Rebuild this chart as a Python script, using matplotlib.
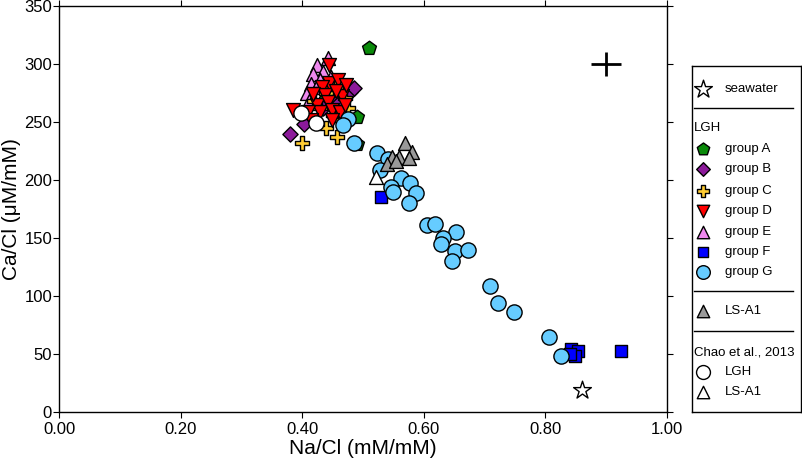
import matplotlib
matplotlib.use("Agg")
import matplotlib.pyplot as plt

plt.rcParams['font.family'] = ['Liberation Sans', 'DejaVu Sans']

# LGH groups (Na/Cl, Ca/Cl)
a_x = [0.51, 0.49, 0.49, 0.44, 0.455]
a_y = [314, 254, 231, 270, 262]
b_x = [0.38, 0.403, 0.478, 0.485, 0.445, 0.46, 0.435]
b_y = [240, 248, 276, 279, 270, 266, 262]
c_x = [0.40, 0.44, 0.457, 0.47, 0.43, 0.45, 0.463, 0.42, 0.455, 0.44, 0.475]
c_y = [232, 245, 237, 271, 262, 256, 252, 268, 280, 275, 262]
d_x = [0.444, 0.444, 0.459, 0.432, 0.465, 0.437, 0.424, 0.442, 0.429,
       0.449, 0.462, 0.449, 0.41, 0.414, 0.385, 0.455, 0.47, 0.418, 0.472]
d_y = [299, 284, 286, 280, 272, 273, 265, 267, 259,
       260, 259, 252, 259, 252, 260, 277, 265, 274, 282]
e_x = [0.442, 0.425, 0.435, 0.418, 0.447, 0.415, 0.425, 0.408, 0.43, 0.412]
e_y = [305, 299, 293, 291, 289, 283, 280, 275, 286, 268]
f_x = [0.53, 0.842, 0.854, 0.849, 0.84, 0.924]
f_y = [185, 54, 53, 48, 50, 53]
g_x = [0.475, 0.467, 0.485, 0.523, 0.541, 0.528, 0.562, 0.577, 0.546,
       0.549, 0.587, 0.576, 0.605, 0.618, 0.653, 0.632, 0.628, 0.651,
       0.673, 0.646, 0.709, 0.722, 0.748, 0.806, 0.826]
g_y = [253, 247, 232, 223, 218, 209, 202, 197, 194,
       190, 189, 180, 161, 162, 155, 150, 145, 139,
       140, 130, 109, 94, 86, 65, 48]

# LS-A1
ls_x = [0.569, 0.58, 0.559, 0.548, 0.54, 0.576, 0.554]
ls_y = [232, 224, 220, 220, 214, 219, 216]

# Chao et al., 2013
chao_lgh_x = [0.398, 0.423]
chao_lgh_y = [258, 249]
chao_ls_x = [0.521]
chao_ls_y = [203]

# seawater and typical error
sw_x = [0.86]
sw_y = [19]
err_x = [0.90]
err_y = [300]
err_dx = [0.025]
err_dy = [10]

x_ticks = [0.0, 0.2, 0.4, 0.6, 0.8, 1.0]
y_ticks = [0, 50, 100, 150, 200, 250, 300, 350]

# marker styles: label, marker, face color, size
styles = {
    'A': ('group A', 'p', '#0a8a0a', 110),
    'B': ('group B', 'D', '#8c1a9a', 60),
    'C': ('group C', 'P', '#ffcc33', 100),
    'D': ('group D', 'v', '#ff0000', 100),
    'E': ('group E', '^', '#ee88ee', 100),
    'F': ('group F', 's', '#0000ff', 70),
    'G': ('group G', 'o', '#66ccff', 120),
}

fig = plt.figure(figsize=(8.03, 4.61), dpi=100)
ax = fig.add_axes([0.0735, 0.1063, 0.757, 0.8807])

def pts(x, y, key, **kw):
    lab, m, c, s = styles[key]
    ax.scatter(x, y, marker=m, s=s, facecolor=c, edgecolor='black',
               linewidth=1, **kw)

pts(a_x, a_y, 'A', zorder=2)
pts(e_x, e_y, 'E', zorder=3)
pts(b_x, b_y, 'B', zorder=3)
pts(c_x, c_y, 'C', zorder=3)
pts(d_x, d_y, 'D', zorder=4)
pts(f_x, f_y, 'F', zorder=4)
pts(g_x, g_y, 'G', zorder=5)
ax.scatter(ls_x, ls_y, marker='^', s=100, facecolor='#999999',
           edgecolor='black', linewidth=1, zorder=5)
ax.scatter(chao_lgh_x, chao_lgh_y, marker='o', s=120, facecolor='white',
           edgecolor='black', linewidth=1, zorder=6)
ax.scatter(chao_ls_x, chao_ls_y, marker='^', s=100, facecolor='white',
           edgecolor='black', linewidth=1, zorder=6)
ax.scatter(sw_x, sw_y, marker='*', s=180, facecolor='white',
           edgecolor='black', linewidth=1, zorder=6)
ax.errorbar(err_x, err_y, xerr=err_dx, yerr=err_dy, fmt='none',
            ecolor='black', elinewidth=2, capsize=0)

ax.set_xlim(0, 1.0)
ax.set_ylim(0, 350)
ax.set_xticks(x_ticks)
ax.set_xticklabels([f"{v:.2f}" for v in x_ticks])
ax.set_yticks(y_ticks)
ax.tick_params(direction='out', length=4, width=0.8, labelsize=12,
               top=True, right=True, pad=1, colors='black')
ax.tick_params(axis='x', pad=3)
ax.set_xlabel("Na/Cl (mM/mM)", fontsize=15, labelpad=2)
ax.set_ylabel("Ca/Cl (μM/mM)", fontsize=15)
ax.yaxis.set_label_coords(-0.062, 0.5)
for sp in ax.spines.values():
    sp.set_linewidth(1)

# legend box drawn by hand (pixel-like coordinates inside the box)
lg = fig.add_axes([0.8618, 0.1063, 0.1357, 0.7505])
lg.set_xlim(0, 109)
lg.set_ylim(346, 0)
lg.set_xticks([])
lg.set_yticks([])
for sp in lg.spines.values():
    sp.set_linewidth(1)

mx, tx = 11, 33
fs = 9.5
lg.scatter([mx], [23], marker='*', s=180, facecolor='white', edgecolor='black', linewidth=1)
lg.text(tx, 23, "seawater", fontsize=fs, va='center')
lg.plot([2, 101], [42, 42], color='black', lw=1)
lg.text(2, 62, "LGH", fontsize=fs, va='center')
rows = [83, 103, 125, 145, 166, 186, 206]
for yy, key in zip(rows, ['A', 'B', 'C', 'D', 'E', 'F', 'G']):
    lab, m, c, s = styles[key]
    lg.scatter([mx], [yy], marker=m, s=s * 0.8, facecolor=c, edgecolor='black', linewidth=1)
    lg.text(tx, yy, lab, fontsize=fs, va='center')
lg.plot([2, 101], [225, 225], color='black', lw=1)
lg.scatter([mx], [245], marker='^', s=80, facecolor='#999999', edgecolor='black', linewidth=1)
lg.text(tx, 245, "LS-A1", fontsize=fs, va='center')
lg.plot([2, 101], [265, 265], color='black', lw=1)
lg.text(2, 287, "Chao et al., 2013", fontsize=fs, va='center')
lg.scatter([mx], [306], marker='o', s=100, facecolor='white', edgecolor='black', linewidth=1)
lg.text(tx, 306, "LGH", fontsize=fs, va='center')
lg.scatter([mx], [326], marker='^', s=80, facecolor='white', edgecolor='black', linewidth=1)
lg.text(tx, 326, "LS-A1", fontsize=fs, va='center')

fig.savefig("out.png", dpi=100)
